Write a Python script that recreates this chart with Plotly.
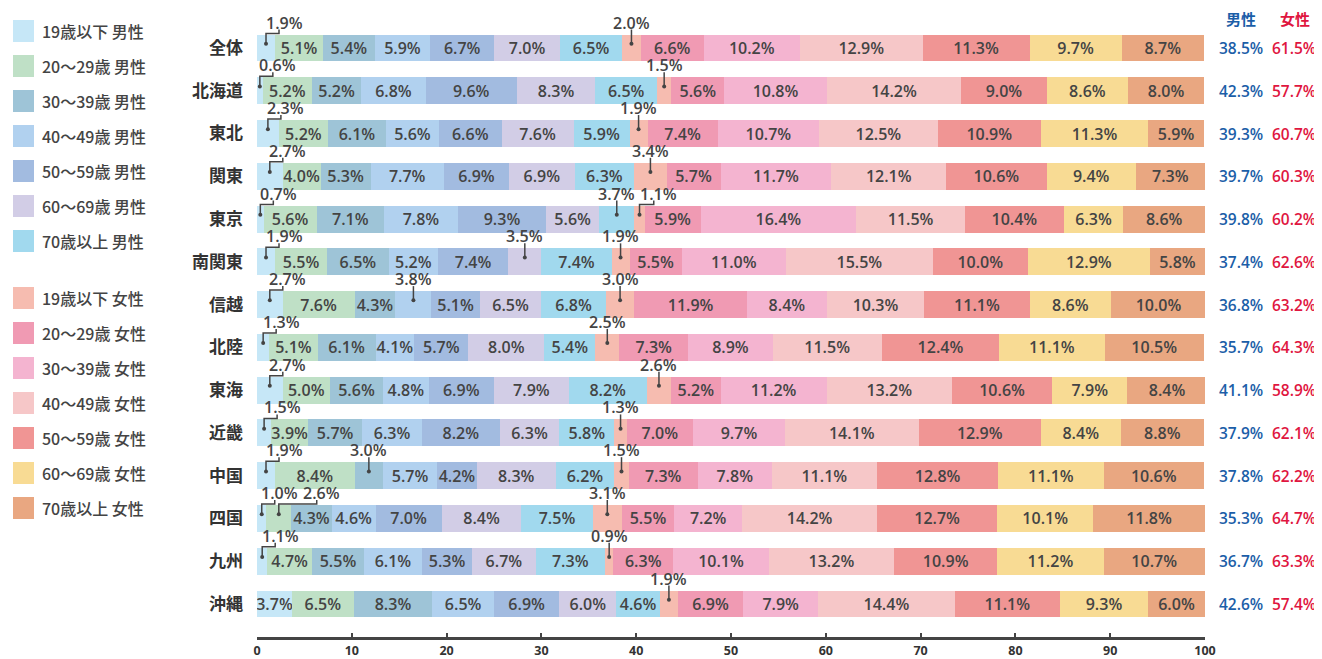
import plotly.graph_objects as go

regions = ["全体", "北海道", "東北", "関東", "東京", "南関東", "信越", "北陸", "東海", "近畿", "中国", "四国", "九州", "沖縄"]

groups = ["19歳以下 男性", "20〜29歳 男性", "30〜39歳 男性", "40〜49歳 男性", "50〜59歳 男性", "60〜69歳 男性", "70歳以上 男性",
          "19歳以下 女性", "20〜29歳 女性", "30〜39歳 女性", "40〜49歳 女性", "50〜59歳 女性", "60〜69歳 女性", "70歳以上 女性"]

colors = ["#c6e7f7", "#bfe0c6", "#9ec4d7", "#b1d1ef", "#a2bbe0", "#d2cde6", "#a1d9ee",
          "#f6bcb0", "#f09ab3", "#f4b4d0", "#f6c7c8", "#f09594", "#f8db94", "#e9a781"]

# male shares per region (19以下, 20-29, 30-39, 40-49, 50-59, 60-69, 70以上)
male = [
    [1.9, 5.1, 5.4, 5.9, 6.7, 7.0, 6.5],
    [0.6, 5.2, 5.2, 6.8, 9.6, 8.3, 6.5],
    [2.3, 5.2, 6.1, 5.6, 6.6, 7.6, 5.9],
    [2.7, 4.0, 5.3, 7.7, 6.9, 6.9, 6.3],
    [0.7, 5.6, 7.1, 7.8, 9.3, 5.6, 3.7],
    [1.9, 5.5, 6.5, 5.2, 7.4, 3.5, 7.4],
    [2.7, 7.6, 4.3, 3.8, 5.1, 6.5, 6.8],
    [1.3, 5.1, 6.1, 4.1, 5.7, 8.0, 5.4],
    [2.7, 5.0, 5.6, 4.8, 6.9, 7.9, 8.2],
    [1.5, 3.9, 5.7, 6.3, 8.2, 6.3, 5.8],
    [1.9, 8.4, 3.0, 5.7, 4.2, 8.3, 6.2],
    [1.0, 2.6, 4.3, 4.6, 7.0, 8.4, 7.5],
    [1.1, 4.7, 5.5, 6.1, 5.3, 6.7, 7.3],
    [3.7, 6.5, 8.3, 6.5, 6.9, 6.0, 4.6],
]
# female shares per region (same age order)
female = [
    [2.0, 6.6, 10.2, 12.9, 11.3, 9.7, 8.7],
    [1.5, 5.6, 10.8, 14.2, 9.0, 8.6, 8.0],
    [1.9, 7.4, 10.7, 12.5, 10.9, 11.3, 5.9],
    [3.4, 5.7, 11.7, 12.1, 10.6, 9.4, 7.3],
    [1.1, 5.9, 16.4, 11.5, 10.4, 6.3, 8.6],
    [1.9, 5.5, 11.0, 15.5, 10.0, 12.9, 5.8],
    [3.0, 11.9, 8.4, 10.3, 11.1, 8.6, 10.0],
    [2.5, 7.3, 8.9, 11.5, 12.4, 11.1, 10.5],
    [2.6, 5.2, 11.2, 13.2, 10.6, 7.9, 8.4],
    [1.3, 7.0, 9.7, 14.1, 12.9, 8.4, 8.8],
    [1.5, 7.3, 7.8, 11.1, 12.8, 11.1, 10.6],
    [3.1, 5.5, 7.2, 14.2, 12.7, 10.1, 11.8],
    [0.9, 6.3, 10.1, 13.2, 10.9, 11.2, 10.7],
    [1.9, 6.9, 7.9, 14.4, 11.1, 9.3, 6.0],
]
male_total = ["38.5%", "42.3%", "39.3%", "39.7%", "39.8%", "37.4%", "36.8%", "35.7%", "41.1%", "37.9%", "37.8%", "35.3%", "36.7%", "42.6%"]
female_total = ["61.5%", "57.7%", "60.7%", "60.3%", "60.2%", "62.6%", "63.2%", "64.3%", "58.9%", "62.1%", "62.2%", "64.7%", "63.3%", "57.4%"]

# small segments that still carry their label inside the bar
inside_exceptions = [("沖縄", 0)]

FONT = "Noto Sans CJK JP"
NUMFONT = "Open Sans, Noto Sans CJK JP"
TXT = "#444444"
OFF = 8                     # page body margin of the html page
W, H = 1322 - OFF, 659 - OFF
L, R, T, B = 257 - OFF, 117, 10 - OFF, 22
PW = W - L - R              # plot width in px
PH = H - T - B
Y_RANGE = [13.772, -0.888]
BAR_W = 0.63
PX_PER_UNIT = PW / 100.0
PX_PER_ROW = PH / (Y_RANGE[0] - Y_RANGE[1])

rows = [m + f for m, f in zip(male, female)]
n_rows = len(regions)
yvals = list(range(n_rows))


def is_callout(r, k):
    v = rows[r][k]
    if (regions[r], k) in inside_exceptions:
        return False
    return v < 3.85


fig = go.Figure()
for k, g in enumerate(groups):
    xs = [rows[r][k] for r in range(n_rows)]
    texts = ["" if is_callout(r, k) else f"{rows[r][k]:.1f}%" for r in range(n_rows)]
    fig.add_trace(go.Bar(
        y=yvals, x=xs, orientation="h", name=g,
        marker=dict(color=colors[k], line=dict(width=0)),
        text=texts, textposition="inside", insidetextanchor="middle", textangle=0,
        textfont=dict(family=NUMFONT, size=16, color=TXT, weight=600),
        width=BAR_W, showlegend=False, hoverinfo="skip",
    ))

annotations = []
shapes = []
dot_x, dot_y = [], []
hw = 19 / PX_PER_UNIT     # half text width in data units
gap = 4 / PX_PER_UNIT
shift = 18 / PX_PER_UNIT
half = BAR_W / 2
line_col = "#444444"

for r in range(n_rows):
    start = 0.0
    prev_right = None
    for k, v in enumerate(rows[r]):
        c = start + v / 2
        if is_callout(r, k):
            tc = c
            elbow = False
            if k == 0 or (prev_right is not None and tc - hw < prev_right + gap):
                tc = c + shift
                if prev_right is not None:
                    tc = max(tc, prev_right + gap + hw)
                elbow = True
            prev_right = tc + hw
            top = r - half
            annotations.append(dict(x=tc, y=top, xref="x", yref="y", text=f"{v:.1f}%",
                                    showarrow=False, yanchor="bottom", xanchor="center", yshift=-1,
                                    font=dict(family=NUMFONT, size=16, color=TXT, weight=600)))
            end_y = r - 0.1
            text_bot = top - 5 / PX_PER_ROW
            if elbow:
                vx = tc - 5 / PX_PER_UNIT
                hy = top - 1 / PX_PER_ROW
                path = f"M {c},{end_y} L {c},{hy} L {vx},{hy} L {vx},{text_bot}"
            else:
                path = f"M {c},{end_y} L {c},{text_bot}"
            shapes.append(dict(type="path", path=path, xref="x", yref="y",
                               line=dict(color=line_col, width=1.5)))
            dot_x.append(c)
            dot_y.append(end_y)
        start += v

fig.add_trace(go.Scatter(x=dot_x, y=dot_y, mode="markers",
                         marker=dict(size=4, color=line_col), showlegend=False, hoverinfo="skip"))


def px_x(px):
    return (px - OFF - L) / PW


def px_y(py):
    return (H - B - (py - OFF)) / PH


# right columns: totals by sex
BLUE = "#1b5ea8"
RED = "#e0163f"
annotations.append(dict(x=px_x(1241), y=px_y(18), xref="paper", yref="paper", text="男性", showarrow=False,
                        xanchor="center", yanchor="middle",
                        font=dict(family=FONT, size=15, color=BLUE, weight="bold")))
annotations.append(dict(x=px_x(1295), y=px_y(18), xref="paper", yref="paper", text="女性", showarrow=False,
                        xanchor="center", yanchor="middle",
                        font=dict(family=FONT, size=15, color=RED, weight="bold")))
for r in range(n_rows):
    annotations.append(dict(x=px_x(1241), y=r, xref="paper", yref="y", text=male_total[r], showarrow=False,
                            xanchor="center", yanchor="middle",
                            font=dict(family=NUMFONT, size=15.5, color=BLUE, weight=600)))
    annotations.append(dict(x=px_x(1294), y=r, xref="paper", yref="y", text=female_total[r], showarrow=False,
                            xanchor="center", yanchor="middle",
                            font=dict(family=NUMFONT, size=15.5, color=RED, weight=600)))

# legend drawn at the left
leg_centers = [31 + 35 * i for i in range(7)] + [298 + 35 * i for i in range(7)]
for k, g in enumerate(groups):
    cy = leg_centers[k]
    shapes.append(dict(type="rect", xref="paper", yref="paper",
                       x0=px_x(13), x1=px_x(34), y0=px_y(cy + 11), y1=px_y(cy - 11),
                       fillcolor=colors[k], line=dict(width=0)))
    annotations.append(dict(x=px_x(40), y=px_y(cy), xref="paper", yref="paper", text=g, showarrow=False,
                            xanchor="left", yanchor="middle",
                            font=dict(family=FONT, size=16, color=TXT, weight=500)))

fig.update_layout(
    width=W, height=H, margin=dict(l=L, r=R, t=T, b=B, autoexpand=False),
    barmode="stack", bargap=0.37,
    plot_bgcolor="white", paper_bgcolor="white",
    font=dict(family=FONT, color=TXT),
    uniformtext=dict(minsize=16, mode="show"),
    annotations=annotations, shapes=shapes,
    xaxis=dict(range=[0, 100], tickvals=list(range(0, 101, 10)), showgrid=False, zeroline=False,
               showline=True, linecolor="#444444", linewidth=2.5, automargin=False,
               ticks="inside", ticklen=4, tickwidth=2, tickcolor="#444444", ticklabelstandoff=0,
               tickfont=dict(family=NUMFONT, size=12.5, color="#333333", weight="bold")),
    yaxis=dict(range=Y_RANGE, tickvals=yvals, ticktext=regions, showgrid=False, zeroline=False,
               showline=False, ticks="", ticklabelstandoff=13, automargin=False,
               tickfont=dict(family=FONT, size=17, color="#333333", weight="bold")),
)

fig.write_html("out.html")
